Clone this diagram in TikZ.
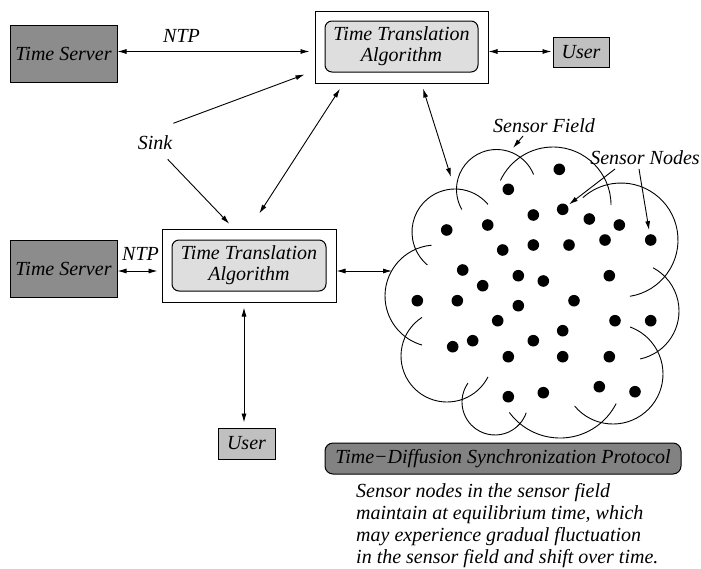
\documentclass[tikz,border=0pt]{standalone}
\usepackage{fontspec}
\setmainfont{Liberation Serif}
\usetikzlibrary{arrows.meta}
\definecolor{darkbox}{RGB}{140,140,140}
\definecolor{tdspgray}{RGB}{130,130,130}
\definecolor{userbox}{RGB}{192,192,192}
\definecolor{innerbox}{RGB}{222,222,222}
\begin{document}
\begin{tikzpicture}[x=1pt,y=1pt,
  lbl/.style={font=\fontsize{20}{21}\selectfont\itshape, inner sep=0pt},
  box/.style={draw, line width=1pt, inner sep=0pt, font=\fontsize{20}{21}\selectfont\itshape, align=center},
  conn/.style={line width=0.9pt, {Latex[length=9pt,width=5pt]}-{Latex[length=9pt,width=5pt]}},
  oneway/.style={line width=0.9pt, -{Latex[length=9pt,width=5pt]}},
  cloudline/.style={line width=0.9pt},
  dot/.style={circle, fill=black, inner sep=0pt, minimum size=11.6pt}
]
\useasboundingbox (0,0) rectangle (701,-568);

% boxes
\node[box, fill=darkbox, minimum width=107pt, minimum height=57pt] (ts1) at (63.5,-53.5) {Time Server};
\node[box, minimum width=173pt, minimum height=72pt] (tta1) at (401.5,-47) {};
\node[box, fill=innerbox, rounded corners=7pt, minimum width=153pt, minimum height=51pt] (tta1in) at (401.5,-46.5) {Time Translation\\Algorithm};
\node[box, fill=userbox, minimum width=56pt, minimum height=30pt] (user1) at (581,-52) {User};

\node[box, fill=darkbox, minimum width=107pt, minimum height=57pt] (ts2) at (63.5,-268.5) {Time Server};
\node[box, minimum width=174pt, minimum height=73pt] (tta2) at (249,-265.5) {};
\node[box, fill=innerbox, rounded corners=7pt, minimum width=154pt, minimum height=51pt] (tta2in) at (249,-265.5) {Time Translation\\Algorithm};
\node[box, fill=userbox, minimum width=57pt, minimum height=31pt] (user2) at (246.5,-443.5) {User};

\node[box, fill=tdspgray, rounded corners=8pt, minimum width=356pt, minimum height=31pt] (tdsp) at (503,-458.5) {Time−Diffusion Synchronization Protocol};

% labels
\node[lbl] (ntp1) at (181.5,-36) {NTP};
\node[lbl] (ntp2) at (140.5,-254) {NTP};
\node[lbl] (sink) at (155,-143) {Sink};
\node[lbl] (sf) at (544,-126) {Sensor Field};
\node[lbl] (sn) at (645,-158) {Sensor Nodes};

\node[lbl, anchor=base west] (desc1) at (356,-497) {Sensor nodes in the sensor field};
\node[lbl, anchor=base west] (desc2) at (356,-519.5) {maintain at equilibrium time, which};
\node[lbl, anchor=base west] (desc3) at (356,-541.5) {may experience gradual fluctuation};
\node[lbl, anchor=base west] (desc4) at (356,-563) {in the sensor field and shift over time.};

% cloud arcs
\draw[cloudline] ([shift={(40:43pt)}]455,-232) arc[start angle=40, end angle=230, radius=43pt];
\draw[cloudline] ([shift={(22:40pt)}]496.5,-189.5) arc[start angle=22, end angle=210, radius=40pt];
\draw[cloudline] ([shift={(0:58pt)}]553,-205) arc[start angle=0, end angle=155, radius=58pt];
\draw[cloudline] ([shift={(-81:57pt)}]621,-240) arc[start angle=-81, end angle=132, radius=57pt];
\draw[cloudline] ([shift={(-78:49pt)}]630,-311) arc[start angle=-78, end angle=62, radius=49pt];
\draw[cloudline] ([shift={(-140:50pt)}]613,-374) arc[start angle=-140, end angle=70, radius=50pt];
\draw[cloudline] ([shift={(-143.5:63pt)}]560,-375) arc[start angle=-143.5, end angle=-27, radius=63pt];
\draw[cloudline] ([shift={(145:33pt)}]495,-402) arc[start angle=145, end angle=341, radius=33pt];
\draw[cloudline] ([shift={(123:46pt)}]447,-356) arc[start angle=123, end angle=333, radius=46pt];
\draw[cloudline] ([shift={(95:51pt)}]436,-296) arc[start angle=95, end angle=254, radius=51pt];

% sensor dots
\foreach \px/\py [count=\i] in {559.3/169.3, 508.3/189.3, 562.7/209.3, 533.3/215, 487.7/225, 446.7/230,
  589.3/219, 619.3/225, 605/240, 650.7/240, 502.7/250, 533.3/245, 569/245, 462.7/270,
  518.3/275.7, 543.3/281, 482.7/285.7, 609.3/275.7, 417.3/300.7, 457.3/300.7, 518.3/305.7,
  574/300.7, 497.7/320.7, 615/320.7, 650.7/320.7, 562.7/330.7, 533.3/340.7, 472.7/340.7,
  452.7/346.7, 508.3/356.7, 562.7/356.7, 609.3/356.7, 599.3/386.7, 635/391.7, 543.3/392.7, 508.3/396.7}
  \node[dot] (d\i) at (\px,-\py) {};

% free-end coordinates
\coordinate (yA) at (0,-51.5);
\coordinate (yB) at (0,-271);
\coordinate (xC) at (244,0);
\coordinate (cl) at (392,-271);
\coordinate (cltop) at (451,-177);
\coordinate (sftip) at (513,-148);

% connectors
\draw[conn, shorten >=5pt] (ts1.east |- yA) -- (tta1.west |- yA);
\draw[conn, shorten >=1pt] (tta1.east |- yA) -- (user1.west |- yA);
\draw[conn, shorten >=4pt] (ts2.east |- yB) -- (tta2.west |- yB);
\draw[conn] (tta2.east |- yB) -- (cl);
\draw[conn, shorten <=5pt, shorten >=5pt] (tta2.south -| xC) -- (user2.north -| xC);
\draw[conn] ([shift={(10.3,15)}]tta2.north) -- ([shift={(-61.5,-5.3)}]tta1.south);
\draw[conn] ([shift={(21.5,-5)}]tta1.south) -- (cltop);
\draw[oneway] ([shift={(18.3,19.7)}]sink.center) -- ([shift={(-10,9)}]tta1.south west);
\draw[oneway] ([shift={(12.7,-16.3)}]sink.center) -- ([shift={(-19.7,4.7)}]tta2.north);
\draw[oneway] ([shift={(-21,-10)}]sf.center) -- (sftip);
\draw[oneway, shorten >=2pt] ([shift={(-30,-11)}]sn.center) -- (d3);
\draw[oneway, shorten >=4pt] ([shift={(-6,-11)}]sn.center) -- (d10);
\end{tikzpicture}
\end{document}
